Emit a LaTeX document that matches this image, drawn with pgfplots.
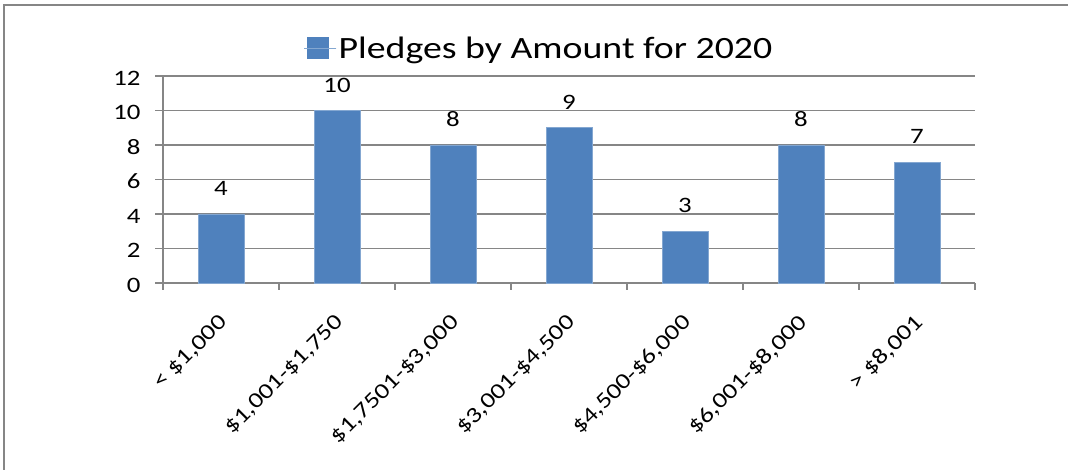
\documentclass[border=0pt]{standalone}
\usepackage{pgfplots}
\pgfplotsset{compat=1.18}
\usepackage{fontspec}
\setmainfont{Carlito}[FakeStretch=1.22]
\definecolor{barblue}{RGB}{79,129,189}
\definecolor{gridgray}{RGB}{134,134,134}
\begin{document}
\begin{tikzpicture}
\useasboundingbox (0,0) rectangle (1068pt,470pt);
\draw[gridgray, line width=2pt] (4pt,0) -- (4pt,465pt) -- (1068pt,465pt);
\begin{axis}[
  at={(163pt,187pt)}, anchor=south west,
  scale only axis, width=812pt, height=207pt,
  xmin=-0.5, xmax=6.5, ymin=0, ymax=12,
  ytick={0,2,...,12},
  xtick={0,...,6},
  xticklabels={{< \$1,000},{\$1,001-\$1,750},{\$1,7501-\$3,000},{\$3,001-\$4,500},{\$4,500-\$6,000},{\$6,001-\$8,000},{> \$8,001}},
  minor xtick={-0.5,0.5,...,6.5},
  major x tick style={draw=none},
  minor x tick style={draw=gridgray, line width=1.2pt},
  major y tick style={draw=gridgray, line width=1.2pt},
  minor tick length=7pt,
  major tick length=8pt,
  tick align=outside,
  axis x line*=bottom, axis y line*=left,
  axis line style={-, draw=gridgray, line width=1.5pt},
  ymajorgrids,
  major grid style={draw=gridgray, line width=1.2pt},
  /pgf/number format/assume math mode=true,
  tick label style={font=\fontsize{22pt}{25pt}\selectfont, text=black},
  yticklabel style={xshift=-11pt, yshift=-2pt},
  xticklabel style={yshift=-28pt, xshift=3pt, rotate=45, anchor=east, inner sep=0pt},
  ybar, bar width=46pt,
  nodes near coords,
  every node near coord/.append style={font=\fontsize{22pt}{25pt}\selectfont, anchor=south, inner sep=0pt, yshift=18pt, text=black},
  legend style={at={(0.171,1.135)}, anchor=west, draw=none, fill=none, font=\fontsize{31pt}{35pt}\selectfont, inner sep=2pt},
  legend image code/.code={\fill[barblue] (3pt,-10.5pt) rectangle (24pt,10.5pt); \path (0pt,0pt) -- (32pt,0pt);},
  legend cell align=left,
  clip=false,
]
\addplot[fill=barblue, draw=barblue!70!white, line width=0.6pt] coordinates {(0,4) (1,10) (2,8) (3,9) (4,3) (5,8) (6,7)};
\addlegendentry{Pledges by Amount for 2020}
\end{axis}
\end{tikzpicture}
\end{document}
